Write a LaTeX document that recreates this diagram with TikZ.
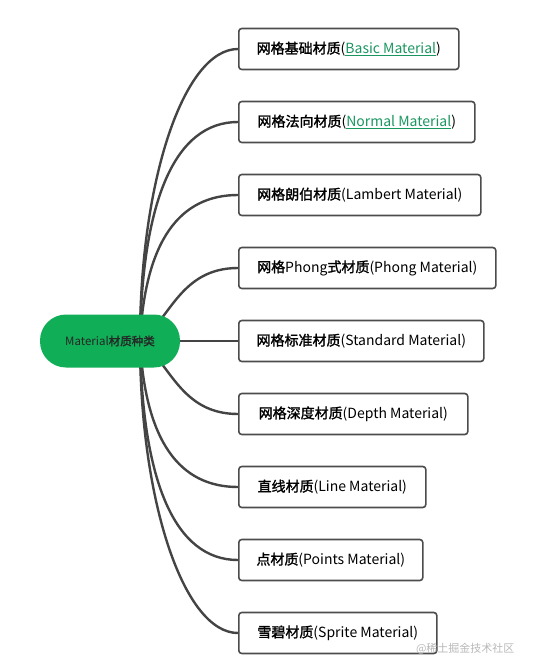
\documentclass[tikz,border=0pt]{standalone}
\usepackage{fontspec}
\setmainfont{Noto Sans CJK SC}[AutoFakeBold=1.6]
\usetikzlibrary{positioning, backgrounds}
\definecolor{rootgreen}{RGB}{16,174,86}
\definecolor{linkgreen}{RGB}{26,150,96}
\definecolor{edgegray}{RGB}{68,68,68}
\newcommand{\lnk}[1]{\textcolor{linkgreen}{\underline{#1}}}
\newcommand{\zh}[1]{\textbf{#1}}

\begin{document}
\begin{tikzpicture}[
  x=1pt, y=-1pt,
  root/.style   = {fill=rootgreen, rounded corners=26pt, minimum width=140pt, minimum height=53pt, inner sep=0pt, font=\fontsize{11.5}{13}\selectfont, text=black!85},
  leaf/.style   = {draw=black!70, line width=1.6pt, rounded corners=3pt, minimum height=41pt, inner xsep=0pt, anchor=west, font=\fontsize{14}{16}\selectfont},
  branch/.style = {draw=edgegray, line width=2.4pt},
]
\useasboundingbox (0,0) rectangle (534,672);
% centre topic
\node[root] (root) at (110,341) {Material\zh{材质种类}};
\coordinate (hub) at (140,341);
% leaves: index / box width / text
\foreach \i/\w/\txt in {
  1/220/{\zh{网格基础材质}(\lnk{Basic Material})},
  2/236/{\zh{网格法向材质}(\lnk{Normal Material})},
  3/242/{\zh{网格朗伯材质}(Lambert Material)},
  4/257/{\zh{网格}Phong\zh{式材质}(Phong Material)},
  5/245/{\zh{网格标准材质}(Standard Material)},
  6/229/{\zh{网格深度材质}(Depth Material)},
  7/187/{\zh{直线材质}(Line Material)},
  8/184/{\zh{点材质}(Points Material)},
  9/198/{\zh{雪碧材质}(Sprite Material)}}{%
  \node[leaf, minimum width=\w pt] (b\i) at (238,{49+(\i-1)*73}) {\txt};
}
\node[font=\fontsize{11}{13}\selectfont, text=black!28, anchor=east] (mark) at (518,649) {@稀土掘金技术社区};
% branches behind the nodes
\begin{scope}[on background layer]
  \foreach \i/\ax/\ay/\bx in {1/0/-161/-54, 2/2/-141/-63, 3/5/-101/-58, 4/30/-21/-58,
                              6/30/21/-58, 7/5/101/-58, 8/2/141/-63, 9/0/161/-54}{%
    \draw[branch] (hub) .. controls +(\ax,\ay) and +(\bx,0) .. (b\i.west);
  }
  \draw[branch] (root.east) -- (b5.west);
\end{scope}
\end{tikzpicture}
\end{document}
